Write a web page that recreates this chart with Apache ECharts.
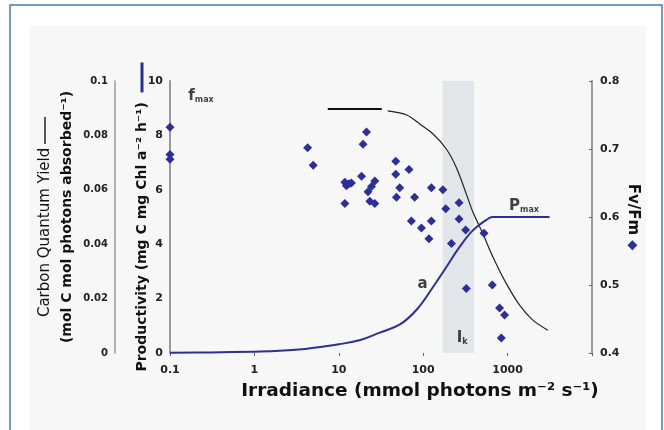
<!DOCTYPE html>
<html><head><meta charset="utf-8">
<script src="https://cdn.jsdelivr.net/npm/echarts@6/dist/echarts.min.js"></script>
<style>html,body{margin:0;padding:0;background:#fff}#c{width:664px;height:430px}</style>
</head><body><div id="c"></div>
<script>
// ---- data ----
const xTickValues = [0.1, 1, 10, 100, 1000];
// Productivity (P vs E) curve, left axis (mg C mg Chl a-1 h-1)
const prodIrr = [0.1, 0.3, 1, 2, 4, 6, 10, 18, 30, 53, 84, 129, 190, 270, 385, 564, 664, 3140];
const prodVal = [0.01, 0.02, 0.05, 0.08, 0.15, 0.22, 0.32, 0.48, 0.74, 1.05, 1.6, 2.4, 3.18, 3.9, 4.5, 4.9, 5.0, 5.0];
// Carbon quantum yield curve (two pieces), far-left axis
const qyIrrA = [7.4, 32.3];
const qyValA = [0.0897, 0.0897];
const qyIrrB = [38, 64, 91, 131, 188, 247, 324, 388, 510, 670, 966, 1387, 1991, 3000];
const qyValB = [0.089, 0.0875, 0.0842, 0.0805, 0.075, 0.0682, 0.0585, 0.0518, 0.0438, 0.0353, 0.0255, 0.0176, 0.0121, 0.0084];
// Fv/Fm observations, right axis
const fvIrr = [0.1,0.1,0.1,4.27,4.97,21.3,19.4,11.8,13.2,14.1,12.3,18.6,26.7,24.4,22.2,23.3,26.7,11.8,47.3,47.3,67.9,52.7,48.2,79.2,125,171,185,266,72.4,95.3,125,117,266,318,216,525,324,659,803,921,842];
const fvVal = [0.732,0.692,0.685,0.702,0.676,0.725,0.707,0.651,0.649,0.650,0.646,0.660,0.653,0.645,0.637,0.623,0.620,0.620,0.682,0.663,0.670,0.643,0.629,0.629,0.643,0.640,0.612,0.621,0.594,0.584,0.594,0.568,0.597,0.581,0.561,0.576,0.495,0.500,0.466,0.456,0.422];
// Ik band (irradiance range)
const ikBand = [170, 400];
// annotation texts and their anchors (irradiance, productivity)
const annoText = ['{m|f}{s|max}', '{m|a}', '{m|P}{s|max}', '{m|I}{s|k}'];
const annoIrr = [0.233, 98.6, 1567, 290];
const annoP = [9.45, 2.54, 5.40, 0.55];

const FONT = 'DejaVu Sans';
const BLUE = '#2c2f98';
const zip = (a, b) => a.map((v, i) => [v, b[i]]);

const chart = echarts.init(document.getElementById('c'), null, {renderer: 'canvas'});
chart.setOption({
  backgroundColor: '#ffffff',
  animation: false,
  textStyle: {fontFamily: FONT},
  graphic: [
    {type: 'rect', z: -10, shape: {x: 10, y: 5, width: 652, height: 440},
     style: {fill: '#ffffff', stroke: '#4a78b0', lineWidth: 1.5}},
    {type: 'rect', z: -9, shape: {x: 30, y: 26, width: 616, height: 410},
     style: {fill: '#f7f7f7'}}
  ],
  grid: {left: 170, right: 72, top: 81, bottom: 77, containLabel: false},
  xAxis: {
    type: 'log', logBase: 10, min: 0.1, max: 10000,
    axisLine: {show: false},
    axisTick: {show: true, length: 3, lineStyle: {color: '#666'}},
    splitLine: {show: false},
    axisLabel: {
      margin: 12, fontSize: 11, fontWeight: 'bold', color: '#222',
      formatter: v => { const t = xTickValues.find(x => Math.abs(x - v) / x < 1e-6); return t === undefined ? '' : String(t); }
    },
    name: 'Irradiance (mmol photons m⁻² s⁻¹)',
    nameLocation: 'middle', nameGap: 29,
    nameTextStyle: {fontSize: 18.5, fontWeight: 'bold', color: '#111', padding: [0, 0, 0, 78]}
  },
  yAxis: [
    {
      type: 'value', min: 0, max: 10, interval: 2, position: 'left',
      axisLine: {show: true, lineStyle: {color: '#9a9a9a', width: 2}},
      axisTick: {show: false}, splitLine: {show: false},
      axisLabel: {margin: 7, fontSize: 11, fontWeight: 'bold', color: '#222'},
      name: 'Productivity (mg C mg Chl a⁻² h⁻¹)  {d| }',
      nameLocation: 'middle', nameRotate: 90, nameGap: 21, nameMoveOverlap: false,
      nameTextStyle: {fontSize: 14, fontWeight: 'bold', color: '#111',
        rich: {d: {width: 30, height: 3, backgroundColor: BLUE}}}
    },
    {
      type: 'value', min: 0, max: 0.1, interval: 0.02, position: 'left', offset: 55,
      axisLine: {show: true, lineStyle: {color: '#9a9a9a', width: 1.5}},
      axisTick: {show: false}, splitLine: {show: false},
      axisLabel: {margin: 7, fontSize: 10, fontWeight: 'bold', color: '#222'},
      name: '{a|Carbon Quantum Yield} {k| }\n{b|(mol C mol photons absorbed⁻¹)}',
      nameLocation: 'middle', nameRotate: 90, nameGap: 37, nameMoveOverlap: false,
      nameTextStyle: {color: '#111', lineHeight: 22,
        rich: {
          a: {fontSize: 15, fontWeight: 'normal', color: '#111', lineHeight: 22},
          b: {fontSize: 14, fontWeight: 'bold', color: '#111', lineHeight: 22},
          k: {width: 27, height: 1.5, backgroundColor: '#222'}
        }}
    },
    {
      type: 'value', min: 0.4, max: 0.8, interval: 0.1, position: 'right',
      axisLine: {show: true, lineStyle: {color: '#9a9a9a', width: 2}},
      axisTick: {show: true, inside: true, length: 3, lineStyle: {color: '#666'}},
      splitLine: {show: false},
      axisLabel: {margin: 8, fontSize: 11, fontWeight: 'bold', color: '#222', formatter: v => v.toFixed(1)},
      name: 'Fv/Fm {s|◆}',
      nameLocation: 'middle', nameRotate: -90, nameGap: 33, nameMoveOverlap: false,
      nameTextStyle: {fontSize: 15, fontWeight: 'bold', color: '#111',
        rich: {s: {fontSize: 13, color: BLUE}}}
    }
  ],
  series: [
    {
      type: 'line', name: 'Ik', yAxisIndex: 0, data: [], z: 1, silent: true,
      markArea: {silent: true, itemStyle: {color: '#e3e6e9'},
        data: [[{xAxis: ikBand[0]}, {xAxis: ikBand[1]}]]}
    },
    {
      type: 'line', name: 'Quantum yield A', yAxisIndex: 1, data: zip(qyIrrA, qyValA),
      showSymbol: false, symbol: 'none', z: 3,
      lineStyle: {color: '#111', width: 2}
    },
    {
      type: 'line', name: 'Quantum yield B', yAxisIndex: 1, data: zip(qyIrrB, qyValB),
      showSymbol: false, symbol: 'none', smooth: 0.3, z: 3,
      lineStyle: {color: '#222', width: 1.2}
    },
    {
      type: 'line', name: 'Productivity', yAxisIndex: 0, data: zip(prodIrr, prodVal),
      showSymbol: false, symbol: 'none', smooth: 0.4, z: 4,
      lineStyle: {color: BLUE, width: 2}
    },
    {
      type: 'scatter', name: 'Fv/Fm', yAxisIndex: 2, data: zip(fvIrr, fvVal),
      symbol: 'diamond', symbolSize: 9, z: 5,
      itemStyle: {color: BLUE, opacity: 1}
    },
    {
      type: 'scatter', name: 'labels', yAxisIndex: 0, symbolSize: 0, z: 6, silent: true,
      data: annoText.map((t, i) => ({value: [annoIrr[i], annoP[i]], text: t})),
      label: {
        show: true, position: 'inside',
        formatter: p => p.data.text,
        rich: {
          m: {fontSize: 15, fontWeight: 'bold', color: '#111', fontFamily: FONT, verticalAlign: 'bottom'},
          s: {fontSize: 8, fontWeight: 'bold', color: '#111', fontFamily: FONT, verticalAlign: 'bottom'}
        }
      }
    }
  ]
});
</script></body></html>
